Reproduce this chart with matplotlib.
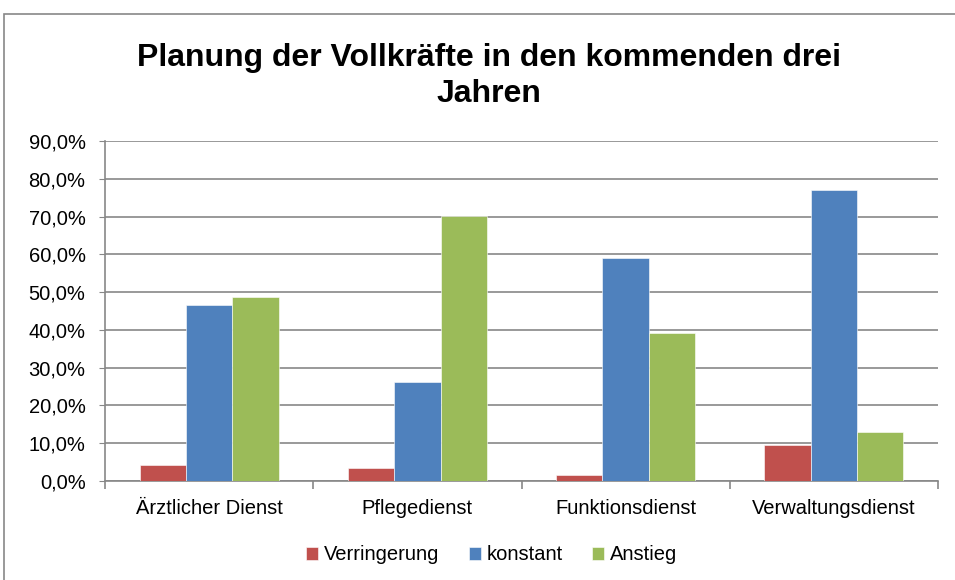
import matplotlib
matplotlib.use("Agg")
import matplotlib.pyplot as plt
from matplotlib.patches import Rectangle
import numpy as np

categories = ["Ärztlicher Dienst", "Pflegedienst", "Funktionsdienst", "Verwaltungsdienst"]
series_names = ["Verringerung", "konstant", "Anstieg"]
verringerung = [4.3, 3.4, 1.6, 9.6]
konstant = [46.7, 26.2, 59.0, 77.1]
anstieg = [48.6, 70.1, 39.1, 13.0]
colors = ["#C0504D", "#4F81BD", "#9BBB59"]
yticks = [0, 10, 20, 30, 40, 50, 60, 70, 80, 90]

plt.rcParams['font.family'] = ['Liberation Sans', 'DejaVu Sans']

W, H = 955, 580
fig = plt.figure(figsize=(W / 100, H / 100), dpi=100)
fig.patches.append(Rectangle((4 / W, -0.1), 1.2, (H - 14) / H + 0.1, transform=fig.transFigure,
                             fill=False, edgecolor="#878787", linewidth=1.2))

left, right, top, bottom = 105, 938, 141, 481
ax = fig.add_axes([left / W, 1 - bottom / H, (right - left) / W, (bottom - top) / H])

x = np.arange(len(categories))
w = 1 / 4.5
for i, (vals, c, name) in enumerate(zip([verringerung, konstant, anstieg], colors, series_names)):
    ax.bar(x + (i - 1) * w, vals, width=w, color=c, label=name, zorder=3,
           edgecolor="white", linewidth=0.4)

ax.set_xlim(-0.5, len(categories) - 0.5)
ax.set_ylim(0, 90)
ax.set_yticks(yticks)
ax.set_yticklabels([f"{v:.1f}%".replace(".", ",") for v in yticks], fontsize=14.5)
ax.yaxis.grid(True, color="#878787", linewidth=1.2, zorder=0)
ax.set_axisbelow(True)
ax.set_xticks(x)
ax.set_xticklabels(categories, fontsize=14.5)
ax.tick_params(axis='x', length=0, pad=13)
ax.tick_params(axis='y', length=4, color="#878787", direction='out', pad=10)
# category separator ticks
ax.set_xticks(np.arange(-0.5, len(categories)), minor=True)
ax.tick_params(axis='x', which='minor', length=6, color="#878787", width=1.2)
for s in ["top", "right"]:
    ax.spines[s].set_visible(False)
for s in ["left", "bottom"]:
    ax.spines[s].set_color("#878787")
    ax.spines[s].set_linewidth(1.2)

fig.text(0.512, 1 - 76 / H, "Planung der Vollkräfte in den kommenden drei\nJahren",
         ha="center", va="center", fontsize=23, fontweight="bold", linespacing=1.3)

fig.legend(loc="center", bbox_to_anchor=(0.515, 1 - 555 / H), ncol=3, frameon=False,
           fontsize=14.5, handlelength=0.6, handleheight=0.6, handletextpad=0.3, columnspacing=1.45)

fig.savefig("out.png", dpi=100)
